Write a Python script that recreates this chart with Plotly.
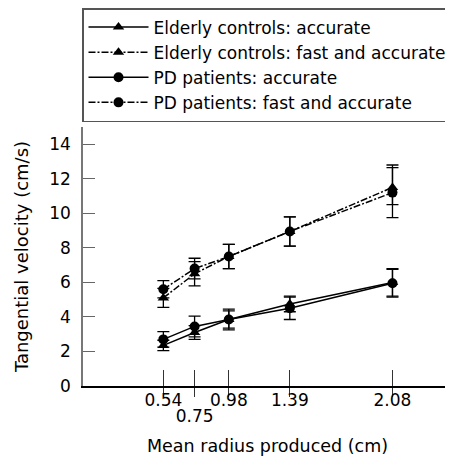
import plotly.graph_objects as go

radius = [0.54, 0.75, 0.98, 1.39, 2.08]
tick_text_row1 = ["0.54", "", "0.98", "1.39", "2.08"]
tick_text_row2 = ["", "0.75", "", "", ""]

ec_acc = [2.35, 3.1, 3.85, 4.75, 6.0]
ec_acc_err = [0.3, 0.4, 0.5, 0.45, 0.8]
pd_acc = [2.7, 3.45, 3.85, 4.5, 5.95]
pd_acc_err = [0.45, 0.6, 0.6, 0.65, 0.8]

ec_fast = [5.1, 6.5, 7.5, 8.95, 11.5]
ec_fast_err_up = [0.55, 0.7, 0.7, 0.85, 1.3]
ec_fast_err_down = [0.55, 0.7, 0.7, 0.85, 1.0]
pd_fast = [5.6, 6.8, 7.5, 8.95, 11.2]
pd_fast_err = [0.5, 0.6, 0.7, 0.85, 1.45]

FONT = "DejaVu Sans"
FS = 17
DASH = "7px,2px,2px,2px"

def trace(name, y, err, dash, symbol, errminus=None):
    ed = dict(type="data", array=err, color="black", thickness=1.3, width=6)
    if errminus is not None:
        ed["arrayminus"] = errminus
        ed["symmetric"] = False
    return go.Scatter(
        x=radius, y=y, name=name, mode="lines+markers",
        line=dict(color="black", width=1.5, dash=dash),
        marker=dict(symbol=symbol, size=10, color="black"),
        error_y=ed,
    )

fig = go.Figure()
fig.add_trace(trace("Elderly controls: accurate", ec_acc, ec_acc_err, "solid", "triangle-up"))
fig.add_trace(trace("Elderly controls: fast and accurate", ec_fast, ec_fast_err_up, DASH, "triangle-up", ec_fast_err_down))
fig.add_trace(trace("PD patients: accurate", pd_acc, pd_acc_err, "solid", "circle"))
fig.add_trace(trace("PD patients: fast and accurate", pd_fast, pd_fast_err, DASH, "circle"))
# invisible trace to anchor the overlay axis (inner half of x ticks, second label row)
fig.add_trace(go.Scatter(x=radius, y=pd_fast, xaxis="x2", mode="markers",
                         marker=dict(opacity=0), showlegend=False, hoverinfo="skip"))

fig.update_layout(
    width=445, height=449,
    margin=dict(l=75, r=1, t=119, b=71, autoexpand=False),
    paper_bgcolor="white", plot_bgcolor="white",
    font=dict(family=FONT, size=FS, color="black"),
    showlegend=True,
    legend=dict(
        x=-1 / 369, y=1 + 119 / 259, xanchor="left", yanchor="top",
        bordercolor="#555555", borderwidth=1.5, bgcolor="white",
        font=dict(family=FONT, size=FS, color="black"),
        itemwidth=60, tracegroupgap=0,
    ),
    xaxis=dict(
        range=[0, 2.48], showgrid=False, zeroline=False, automargin=False,
        showline=True, linecolor="black", linewidth=1.5,
        tickmode="array", tickvals=radius, ticktext=tick_text_row1, tickangle=0,
        ticks="outside", ticklen=9, tickwidth=1.3, tickcolor="#333333",
        tickfont=dict(size=FS), ticklabelstandoff=-11,
        title=dict(text="Mean radius produced (cm)", font=dict(size=17.5), standoff=31),
    ),
    xaxis2=dict(
        range=[0, 2.48], overlaying="x", anchor="y", side="bottom", automargin=False,
        showgrid=False, zeroline=False, showline=False,
        tickmode="array", tickvals=radius, ticktext=tick_text_row2, tickangle=0,
        showticklabels=True, tickfont=dict(size=FS), ticklabelstandoff=18,
        ticks="inside", ticklen=16, tickwidth=1.3, tickcolor="#333333",
    ),
    yaxis=dict(
        range=[0, 15], showgrid=False, zeroline=False, automargin=False,
        showline=True, linecolor="#777777", linewidth=1.5,
        tickmode="array", tickvals=[0, 2, 4, 6, 8, 10, 12, 14],
        ticks="inside", ticklen=12, tickwidth=1.3, tickcolor="#666666",
        tickfont=dict(size=FS), ticklabelstandoff=7,
        title=dict(text="Tangential velocity (cm/s)", font=dict(size=18), standoff=16),
    ),
)

fig.write_html("out.html")
